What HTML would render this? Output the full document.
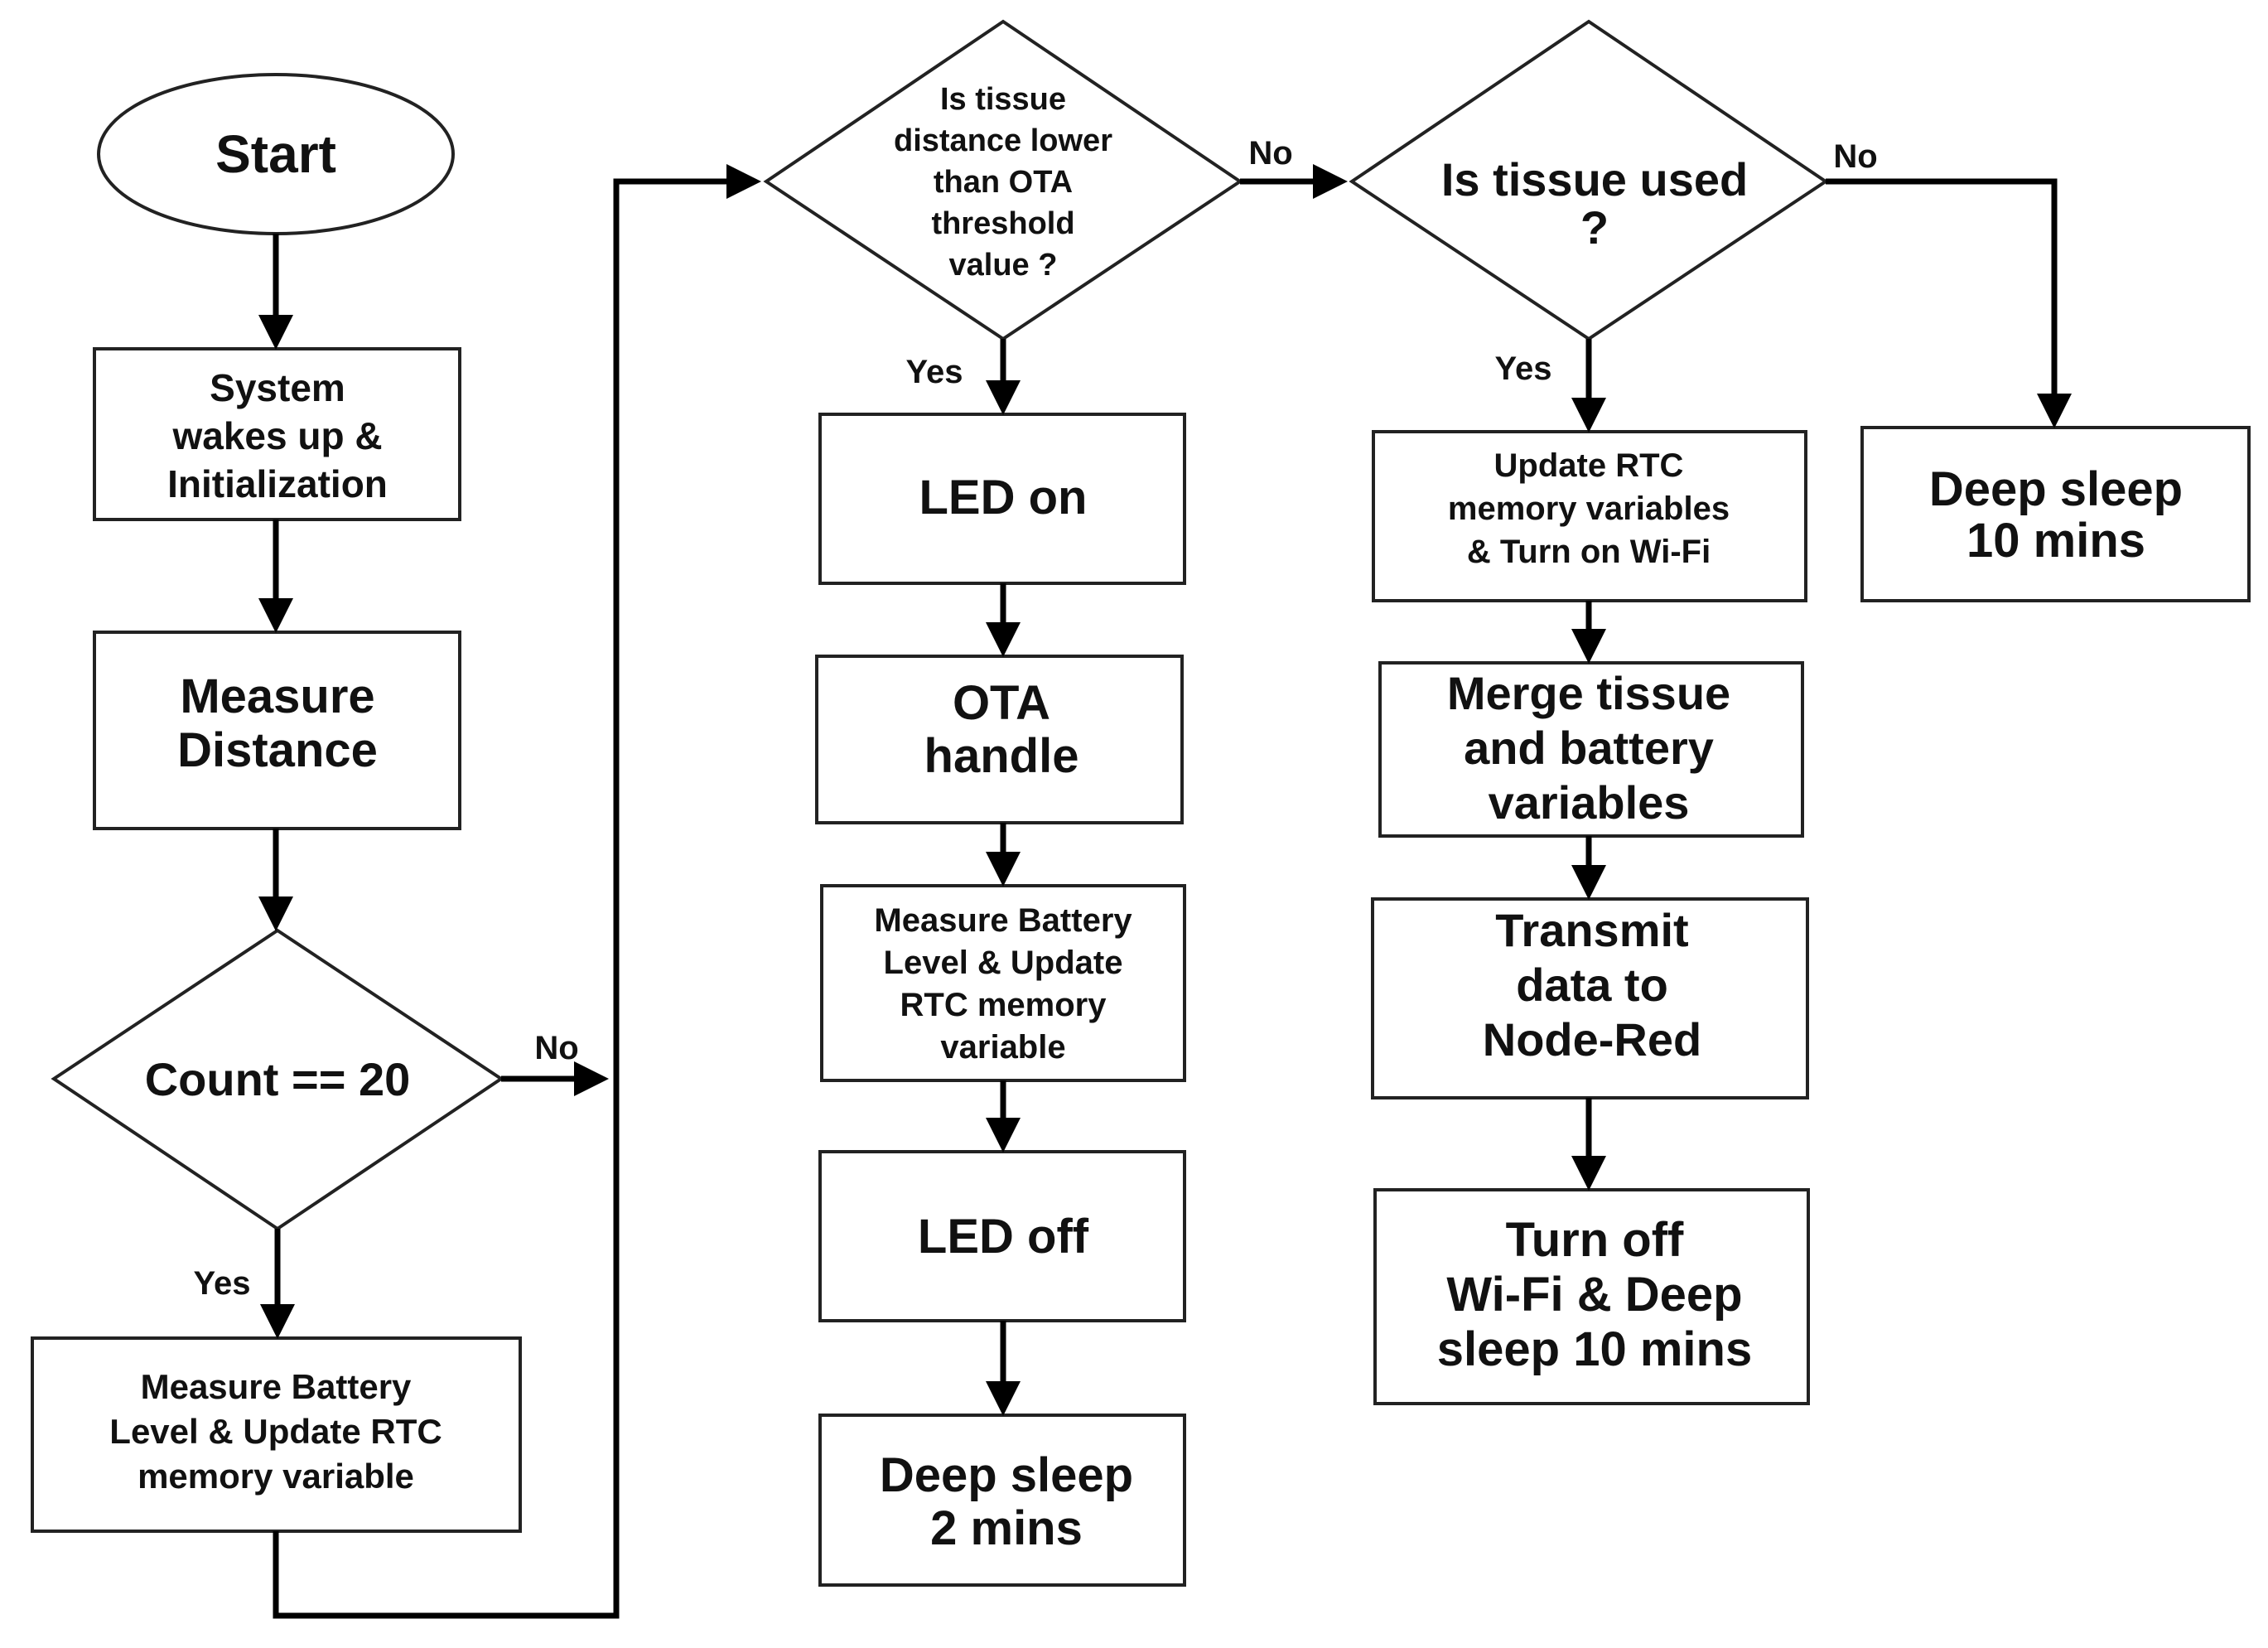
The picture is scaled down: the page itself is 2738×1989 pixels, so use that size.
<!DOCTYPE html>
<html><head><style>html,body{margin:0;padding:0;background:#fff}svg{display:block}</style></head>
<body>
<svg width="2738" height="1989" viewBox="0 0 2738 1989" xmlns="http://www.w3.org/2000/svg">
<defs><marker id="a" markerWidth="6" markerHeight="6" refX="5" refY="3" orient="auto" markerUnits="strokeWidth"><path d="M0,0 L6,3 L0,6 z" fill="#000"/></marker></defs>
<g fill="#fff" stroke="#222" stroke-width="4">
<ellipse cx="333" cy="186" rx="214" ry="96"/>
<rect x="114" y="421" width="441" height="206"/>
<rect x="114" y="763" width="441" height="237"/>
<polygon points="65,1302 335,1123 605,1302 335,1483"/>
<rect x="39" y="1615" width="589" height="233"/>
<polygon points="925,219 1211,26 1497,219 1211,409"/>
<rect x="990" y="500" width="440" height="204"/>
<rect x="986" y="792" width="441" height="201"/>
<rect x="992" y="1069" width="438" height="235"/>
<rect x="990" y="1390" width="440" height="204"/>
<rect x="990" y="1708" width="440" height="205"/>
<polygon points="1632,219 1918,26 2204,219 1918,409"/>
<rect x="1658" y="521" width="522" height="204"/>
<rect x="1666" y="800" width="510" height="209"/>
<rect x="1657" y="1085" width="525" height="240"/>
<rect x="1660" y="1436" width="523" height="258"/>
<rect x="2248" y="516" width="467" height="209"/>
</g>
<g stroke="#000" stroke-width="7" fill="none" marker-end="url(#a)">
<line x1="333" y1="282" x2="333" y2="415"/>
<line x1="333" y1="627" x2="333" y2="757"/>
<line x1="333" y1="1000" x2="333" y2="1117"/>
<line x1="335" y1="1483" x2="335" y2="1609"/>
<line x1="605" y1="1302" x2="728" y2="1302"/>
<polyline points="333,1848 333,1950 744,1950 744,219 912,219"/>
<line x1="1211" y1="409" x2="1211" y2="494"/>
<line x1="1211" y1="704" x2="1211" y2="786"/>
<line x1="1211" y1="993" x2="1211" y2="1063"/>
<line x1="1211" y1="1304" x2="1211" y2="1384"/>
<line x1="1211" y1="1594" x2="1211" y2="1702"/>
<line x1="1497" y1="219" x2="1620" y2="219"/>
<line x1="1918" y1="409" x2="1918" y2="515"/>
<line x1="1918" y1="725" x2="1918" y2="794"/>
<line x1="1918" y1="1009" x2="1918" y2="1079"/>
<line x1="1918" y1="1325" x2="1918" y2="1430"/>
<polyline points="2204,219 2480,219 2480,510"/>
</g>
<g font-family="Liberation Sans, sans-serif" font-weight="bold" fill="#111" text-anchor="middle">
<text x="333" y="208" font-size="64">Start</text>
<g font-size="46"><text x="335" y="484">System</text><text x="335" y="542">wakes up &amp;</text><text x="335" y="600">Initialization</text></g>
<g font-size="58"><text x="335" y="860">Measure</text><text x="335" y="925">Distance</text></g>
<text x="335" y="1322" font-size="56">Count == 20</text>
<g font-size="42"><text x="333" y="1688">Measure Battery</text><text x="333" y="1742">Level &amp; Update RTC</text><text x="333" y="1796">memory variable</text></g>
<g font-size="38"><text x="1211" y="132">Is tissue</text><text x="1211" y="182">distance lower</text><text x="1211" y="232">than OTA</text><text x="1211" y="282">threshold</text><text x="1211" y="332">value ?</text></g>
<text x="1211" y="620" font-size="58">LED on</text>
<g font-size="58"><text x="1209" y="868">OTA</text><text x="1209" y="932">handle</text></g>
<g font-size="40"><text x="1211" y="1124">Measure Battery</text><text x="1211" y="1175">Level &amp; Update</text><text x="1211" y="1226">RTC memory</text><text x="1211" y="1277">variable</text></g>
<text x="1211" y="1512" font-size="58">LED off</text>
<g font-size="58"><text x="1215" y="1800">Deep sleep</text><text x="1215" y="1864">2 mins</text></g>
<g font-size="56"><text x="1925" y="236">Is tissue used</text><text x="1925" y="294">?</text></g>
<g font-size="40"><text x="1918" y="575">Update RTC</text><text x="1918" y="627">memory variables</text><text x="1918" y="679">&amp; Turn on Wi-Fi</text></g>
<g font-size="56"><text x="1918" y="856">Merge tissue</text><text x="1918" y="922">and battery</text><text x="1918" y="988">variables</text></g>
<g font-size="56"><text x="1922" y="1142">Transmit</text><text x="1922" y="1208">data to</text><text x="1922" y="1274">Node-Red</text></g>
<g font-size="58"><text x="1925" y="1516">Turn off</text><text x="1925" y="1582">Wi-Fi &amp; Deep</text><text x="1925" y="1648">sleep 10 mins</text></g>
<g font-size="58"><text x="2482" y="610">Deep sleep</text><text x="2482" y="672">10 mins</text></g>
<g font-size="40"><text x="672" y="1278">No</text><text x="268" y="1562">Yes</text><text x="1128" y="462">Yes</text><text x="1534" y="198">No</text><text x="1839" y="458">Yes</text><text x="2240" y="202">No</text></g>
</g>
</svg>
</body></html>
